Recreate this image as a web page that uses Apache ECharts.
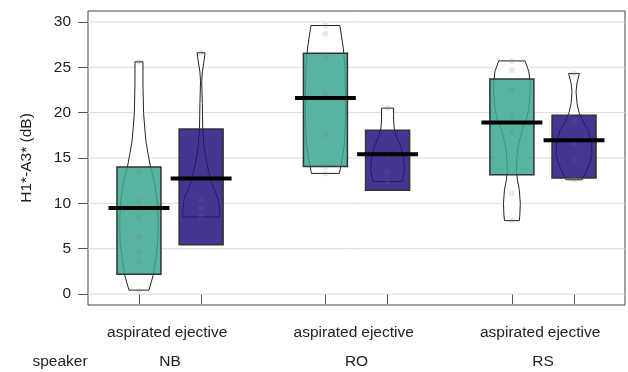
<!DOCTYPE html>
<html><head><meta charset="utf-8">
<script src="https://cdn.jsdelivr.net/npm/echarts@6/dist/echarts.min.js"></script>
<style>html,body{margin:0;padding:0;background:#fff}#c{width:628px;height:372px}</style>
</head><body><div id="c"></div>
<script>
// ---- data ----
const speakers = ['NB', 'RO', 'RS'];
const types = ['aspirated', 'ejective'];
const yTicks = [0, 5, 10, 15, 20, 25, 30];

// order: NB-asp, NB-ej, RO-asp, RO-ej, RS-asp, RS-ej
const medians = [9.5, 12.75, 21.6, 15.4, 18.9, 16.95];
const boxLow  = [2.2, 5.45, 14.05, 11.45, 13.15, 12.8];
const boxHigh = [14.0, 18.2, 26.55, 18.05, 23.7, 19.7];

// violin profiles: [value, relative density]
const violinNBasp = [[25.6,0.2],[23,0.2],[20,0.23],[18,0.3],[16.8,0.35],[15.5,0.45],[14.1,0.57],[12,0.8],[10,0.92],[8,0.96],[6,0.95],[4,0.85],[2,0.7],[0.44,0.5]];
const violinNBej  = [[26.6,0.2],[25.6,0.14],[24.5,0.06],[23.4,0.03],[21,0.06],[18.3,0.08],[16.1,0.15],[14.2,0.3],[12.4,0.5],[11.2,0.72],[10.5,0.85],[9.3,0.92],[8.5,0.9]];
const violinROasp = [[29.6,0.72],[28.5,0.8],[27,0.9],[25,0.97],[22,1.0],[19,1.0],[16.5,0.95],[14.8,0.82],[13.3,0.7]];
const violinROej  = [[20.5,0.3],[19.2,0.3],[18.3,0.33],[17.3,0.45],[16.3,0.65],[15,0.8],[13.8,0.85],[13,0.8],[12.4,0.72]];
const violinRSasp = [[25.7,0.66],[24.5,0.85],[23,0.92],[21,0.87],[19.5,0.77],[18,0.5],[16.5,0.33],[15,0.25],[13.5,0.23],[12.5,0.28],[11.5,0.37],[10,0.42],[8.8,0.4],[8.1,0.37]];
const violinRSej  = [[24.3,0.27],[23.3,0.15],[22.3,0.1],[21,0.15],[20,0.25],[19,0.45],[18,0.7],[17,0.85],[15.5,0.9],[14.5,0.8],[13.5,0.6],[12.6,0.4]];

// raw observations (faint points)
const pointsNBasp = [25.6, 13.5, 10.2, 8.5, 6.3, 4.7, 3.6, 0.4];
const pointsNBej  = [26.6, 10.4, 9.5, 8.6];
const pointsROasp = [29.6, 28.7, 26.2, 22.1, 17.5, 14.0, 13.3];
const pointsROej  = [20.5, 15.2, 13.5, 12.4];
const pointsRSasp = [25.7, 24.7, 22.5, 19.7, 17.9, 11.1, 8.1];
const pointsRSej  = [24.3, 19.0, 16.6, 14.8, 12.6];

// ---- build ----
const violins = [violinNBasp, violinNBej, violinROasp, violinROej, violinRSasp, violinRSej];
const points = [pointsNBasp, pointsNBej, pointsROasp, pointsROej, pointsRSasp, pointsRSej];
const groupX = [];
const groupLabels = [];
speakers.forEach((s, si) => types.forEach((t, ti) => { groupX.push(si * 3 + ti + 1); groupLabels.push(t); }));
const speakerX = speakers.map((s, si) => si * 3 + 1.5);

const X_MIN = 0.18, X_MAX = 8.82;
const BOX_HALF = 0.354, MED_HALF = 0.49, VIOLIN_W = 0.322;
const fills = ['rgba(61,167,146,0.86)', 'rgba(38,21,128,0.86)'];
const FONT = 'Liberation Sans';
const FS = 15.5;

const groupData = groupX.map((x, i) => [x, medians[i]]);
const scatterData = [];
points.forEach((arr, i) => arr.forEach(v => scatterData.push([groupX[i], v])));

const chart = echarts.init(document.getElementById('c'), null, {renderer: 'canvas'});
chart.setOption({
  animation: false,
  textStyle: {fontFamily: FONT},
  grid: {left: 88, right: 3, top: 11, bottom: 67, show: true, borderColor: '#444', borderWidth: 1, backgroundColor: 'transparent', containLabel: false, outerBoundsMode: 'none'},
  xAxis: [{
    type: 'value', min: X_MIN, max: X_MAX, position: 'bottom',
    axisLine: {show: false}, splitLine: {show: false},
    axisTick: {show: true, length: 10, lineStyle: {color: '#555'}, customValues: groupX},
    axisLabel: {customValues: groupX, margin: 20, fontSize: FS, color: '#222', fontFamily: FONT,
      formatter: v => { const i = groupX.indexOf(Math.round(v)); return i >= 0 ? groupLabels[i] : ''; }}
  }, {
    type: 'value', min: X_MIN, max: X_MAX, position: 'bottom', offset: 0,
    axisLine: {show: false}, splitLine: {show: false}, axisTick: {show: false},
    axisLabel: {customValues: speakerX, margin: 48.5, fontSize: FS, color: '#222', fontFamily: FONT,
      formatter: v => { const i = speakerX.findIndex(s => Math.abs(s - v) < 0.01); return i >= 0 ? speakers[i] : ''; }}
  }],
  yAxis: {
    type: 'value', min: -1.2, max: 31.2,
    name: 'H1*-A3* (dB)', nameLocation: 'middle', nameGap: 53,
    nameTextStyle: {fontSize: FS, color: '#222', fontFamily: FONT},
    axisLine: {show: false}, splitLine: {show: false},
    axisTick: {show: true, length: 10, lineStyle: {color: '#555'}, customValues: yTicks},
    axisLabel: {customValues: yTicks, margin: 17, fontSize: FS, color: '#222', fontFamily: FONT}
  },
  graphic: [{
    type: 'text', x: 60, y: 361.5, z: 10,
    style: {text: 'speaker', font: FS + 'px "' + FONT + '"', fill: '#222', align: 'center', verticalAlign: 'middle', textAlign: 'center', textVerticalAlign: 'middle'}
  }],
  series: [
    { // horizontal grid lines
      type: 'custom', z: 1, silent: true,
      data: yTicks.map(v => [X_MIN, v]),
      renderItem: (p, api) => {
        const a = api.coord([X_MIN, api.value(1)]), b = api.coord([X_MAX, api.value(1)]);
        return {type: 'line', shape: {x1: a[0], y1: a[1], x2: b[0], y2: b[1]}, style: {stroke: '#dcdcdc', lineWidth: 1}};
      }
    },
    { // violins
      type: 'custom', z: 2, silent: true, data: groupData,
      renderItem: (p, api) => {
        const i = p.dataIndex, x = groupX[i], prof = violins[i];
        const left = prof.map(([v, d]) => api.coord([x - d * VIOLIN_W, v]));
        const right = prof.slice().reverse().map(([v, d]) => api.coord([x + d * VIOLIN_W, v]));
        return {type: 'polygon', shape: {points: left.concat(right)}, style: {fill: '#fff', stroke: '#222', lineWidth: 1}};
      }
    },
    { // boxes
      type: 'custom', z: 3, silent: true, data: groupData,
      renderItem: (p, api) => {
        const i = p.dataIndex, x = groupX[i];
        const a = api.coord([x - BOX_HALF, boxHigh[i]]), b = api.coord([x + BOX_HALF, boxLow[i]]);
        return {type: 'rect', shape: {x: a[0], y: a[1], width: b[0] - a[0], height: b[1] - a[1]},
          style: {fill: fills[i % 2], stroke: '#333', lineWidth: 1.5}};
      }
    },
    { // raw points
      type: 'scatter', z: 4, silent: true, data: scatterData, symbolSize: 6,
      itemStyle: {color: 'rgba(120,120,120,0.2)'}
    },
    { // medians
      type: 'custom', z: 5, silent: true, data: groupData,
      renderItem: (p, api) => {
        const i = p.dataIndex, x = groupX[i];
        const a = api.coord([x - MED_HALF, medians[i]]), b = api.coord([x + MED_HALF, medians[i]]);
        return {type: 'line', shape: {x1: a[0], y1: a[1], x2: b[0], y2: b[1]}, style: {stroke: '#000', lineWidth: 4}};
      }
    }
  ]
});
</script></body></html>
